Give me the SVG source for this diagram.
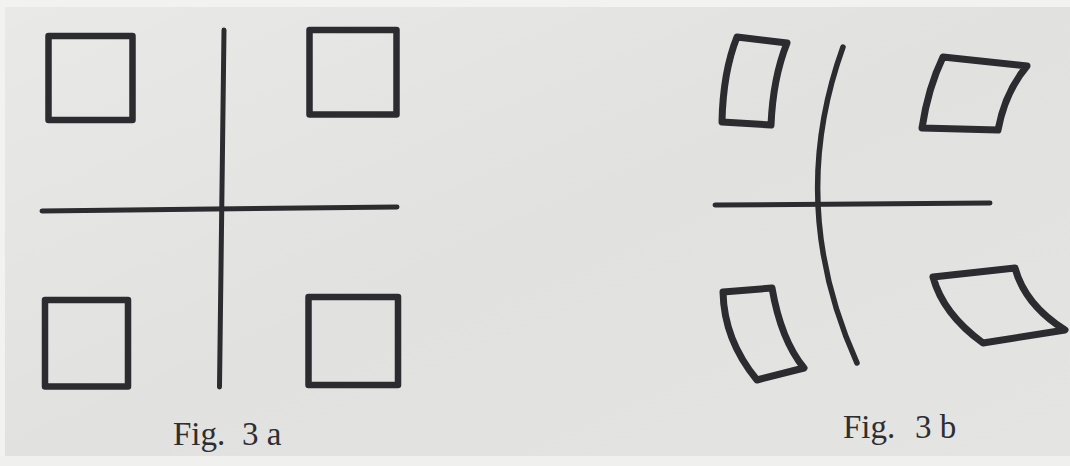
<svg xmlns="http://www.w3.org/2000/svg" width="1070" height="466" viewBox="0 0 1070 466">
  <defs>
    <linearGradient id="paper" x1="0" y1="0" x2="1" y2="1">
      <stop offset="0" stop-color="#e9e9e7"/>
      <stop offset="0.5" stop-color="#e1e1df"/>
      <stop offset="1" stop-color="#e4e4e2"/>
    </linearGradient>
  </defs>
  <style>
    .ink { fill: none; stroke: #2b2b30; stroke-linecap: round; stroke-linejoin: round; }
    .box { stroke-width: 6.5; }
    .boxb { stroke-width: 7; }
    .line { stroke-width: 5; }
    .cap { font-family: "Liberation Serif", "Times New Roman", serif; font-size: 33px; fill: #2e2e32; }
  </style>
  <rect x="0" y="0" width="1070" height="466" fill="url(#paper)"/>
  <rect x="0" y="0" width="1070" height="7" fill="#f2f2f1"/>
  <rect x="0" y="0" width="5" height="466" fill="#f2f2f1"/>
  <rect x="0" y="456" width="1070" height="10" fill="#f0f0ef"/>

  <!-- Fig. 3a -->
  <g id="fig3a">
    <g id="a-square-tl"><rect class="ink box" x="48.5" y="36" width="84" height="84"/></g>
    <g id="a-square-tr"><rect class="ink box" x="309.5" y="30" width="87" height="84.5"/></g>
    <g id="a-square-bl"><rect class="ink box" x="45" y="300" width="83" height="86.5"/></g>
    <g id="a-square-br"><rect class="ink box" x="308.5" y="297" width="89.5" height="88"/></g>
    <g id="a-axes">
      <line class="ink line" x1="224" y1="30" x2="219.5" y2="387"/>
      <line class="ink line" x1="42" y1="211" x2="397" y2="207"/>
    </g>
    <text class="cap" y="445"><tspan x="173">Fig.</tspan><tspan x="242">3 a</tspan></text>
  </g>

  <!-- Fig. 3b -->
  <g id="fig3b">
    <g id="b-shape-tl">
      <path class="ink boxb" d="M737,37 L787,43 Q773,78 771,125 L722,122 Q723,72 737,37 Z"/>
    </g>
    <g id="b-shape-tr">
      <path class="ink boxb" d="M943,57 L1027,66 Q1005,92 998,130 L922,128 Q928,88 943,57 Z"/>
    </g>
    <g id="b-shape-bl">
      <path class="ink boxb" d="M723,292 L772,288 Q781,340 804,368 L757,380 Q724,340 723,292 Z"/>
    </g>
    <g id="b-shape-br">
      <path class="ink boxb" d="M933,277 L1015,268 Q1025,305 1065,330 L983,343 Q943,314 933,277 Z"/>
    </g>
    <g id="b-axes">
      <path class="ink" stroke-width="5.5" d="M843,47 Q786,205 857,363"/>
      <line class="ink line" x1="715" y1="205" x2="990" y2="203"/>
    </g>
    <text class="cap" y="438"><tspan x="843">Fig.</tspan><tspan x="915">3 b</tspan></text>
  </g>
</svg>
